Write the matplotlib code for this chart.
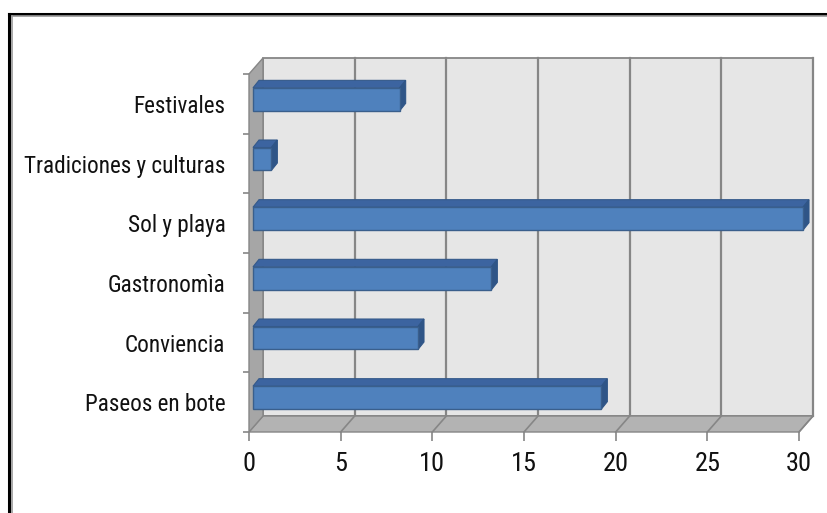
import matplotlib
matplotlib.use("Agg")
import matplotlib.pyplot as plt
from matplotlib import font_manager as fm
from matplotlib.patches import Polygon
from matplotlib.lines import Line2D
import numpy as np

# categories listed bottom to top
categorias = ['Paseos en bote', 'Conviencia', 'Gastronomìa', 'Sol y playa',
              'Tradiciones y culturas', 'Festivales']
valores = [19, 9, 13, 30, 1, 8]
xticks = [0, 5, 10, 15, 20, 25, 30]

# pick a narrow font if one is installed
fonts = fm.fontManager.ttflist
names = {f.name for f in fonts}
stretch = 'normal'
family = 'Roboto'
for cand in ['Liberation Sans Narrow', 'Roboto Condensed', 'Open Sans Condensed',
             'Noto Sans Condensed', 'DejaVu Sans Condensed']:
    if cand in names:
        family = cand
        break
else:
    if any(f.name == 'DejaVu Sans' and f.stretch == 'condensed' for f in fonts):
        family, stretch = 'DejaVu Sans', 'condensed'
font = dict(family=[family, 'DejaVu Sans'], stretch=stretch)

W, H = 827, 513
fig = plt.figure(figsize=(W / 100, H / 100), dpi=100)

# front plane of the 3d box in pixels
x0, x1 = 249, 799
ytop, ybot = 74, 432
ax = fig.add_axes([x0 / W, 1 - ybot / H, (x1 - x0) / W, (ybot - ytop) / H])
xmax = 30
n = len(categorias)
ax.set_xlim(0, xmax)
ax.set_ylim(-0.5, n - 0.5)
for s in ax.spines.values():
    s.set_visible(False)
ax.patch.set_alpha(0)

sx = (x1 - x0) / xmax
sy = (ybot - ytop) / n
# depth of the box and of the bars (pixels -> data units)
DX, DY = 14 / sx, 16 / sy
fx, fy = 4 / sx, 4.5 / sy
bx, by = 10 / sx, 12 / sy

grid_c = '#868686'
lo, hi = -0.5, n - 0.5

# back wall
ax.add_patch(Polygon([(DX, lo + DY), (xmax + DX, lo + DY), (xmax + DX, hi + DY), (DX, hi + DY)],
                     closed=True, facecolor='#e6e6e6', edgecolor=grid_c, lw=1.3,
                     clip_on=False, zorder=1))
# floor
ax.add_patch(Polygon([(0, lo), (xmax, lo), (xmax + DX, lo + DY), (DX, lo + DY)],
                     closed=True, facecolor='#b3b3b3', edgecolor=grid_c, lw=1.0,
                     clip_on=False, zorder=2))
# left side wall
ax.add_patch(Polygon([(0, lo), (0, hi), (DX, hi + DY), (DX, lo + DY)],
                     closed=True, facecolor='#a6a6a6', edgecolor=grid_c, lw=1.0,
                     clip_on=False, zorder=2))

# gridlines on the wall and on the floor
for v in xticks[1:]:
    ax.add_line(Line2D([v + DX, v + DX], [lo + DY, hi + DY], color=grid_c, lw=1.6,
                       clip_on=False, zorder=1.5))
    ax.add_line(Line2D([v, v + DX], [lo, lo + DY], color=grid_c, lw=1.2,
                       clip_on=False, zorder=2.5))

# bars: front face with barh, top and right faces as polygons
h = 0.385
ypos = np.arange(n)
ax.barh(ypos + fy, valores, height=h, left=fx, color='#4f81bd',
        edgecolor='#3a5f8c', lw=1.0, clip_on=False, zorder=5)
for y, v in zip(ypos, valores):
    t = y + h / 2
    b = y - h / 2
    ax.add_patch(Polygon([(fx, t + fy), (v + fx, t + fy), (v + bx, t + by), (bx, t + by)],
                         closed=True, facecolor='#3c64a0', edgecolor='#34598a', lw=0.8,
                         clip_on=False, zorder=4))
    ax.add_patch(Polygon([(v + fx, b + fy), (v + fx, t + fy), (v + bx, t + by), (v + bx, b + by)],
                         closed=True, facecolor='#2f5587', edgecolor='#2f5587', lw=0.8,
                         clip_on=False, zorder=4))

# size the category labels so the longest one spans about 200 px
renderer = fig.canvas.get_renderer()
probe = fig.text(0, 0, max(categorias, key=len), fontsize=10, **font)
wid = probe.get_window_extent(renderer).width
probe.remove()
fs_y = min(20, 10 * 200 / wid)
fs_x = 19 if stretch == 'condensed' or family != 'Roboto' else 17

ax.set_xticks(xticks)
ax.set_xticklabels([str(v) for v in xticks], fontsize=fs_x, color='#111111', **font)
ax.tick_params(axis='x', length=6.5, width=1.2, color=grid_c, pad=8)

ax.set_yticks(np.arange(n + 1) - 0.5)
ax.set_yticklabels([])
ax.tick_params(axis='y', length=4.5, width=1.2, color=grid_c)
ax.set_yticks(ypos, minor=True)
ax.set_yticklabels(categorias, minor=True, fontsize=fs_y, color='#111111', **font)
ax.tick_params(axis='y', which='minor', length=0, pad=17)
for lab in ax.get_yticklabels(minor=True):
    lab.set_y(lab.get_position()[1] - 0.04)

# chart frame
fig.add_artist(Line2D([8.5 / W, 8.5 / W], [0, 1 - 13.5 / H], color='black', lw=2.2))
fig.add_artist(Line2D([8.5 / W, 1], [1 - 13.5 / H, 1 - 13.5 / H], color='black', lw=2.2))
fig.add_artist(Line2D([12 / W, 12 / W], [0, 1 - 16 / H], color='#999999', lw=1.2))
fig.add_artist(Line2D([12 / W, 1], [1 - 16 / H, 1 - 16 / H], color='#999999', lw=1.2))

fig.savefig('out.png', dpi=100)
